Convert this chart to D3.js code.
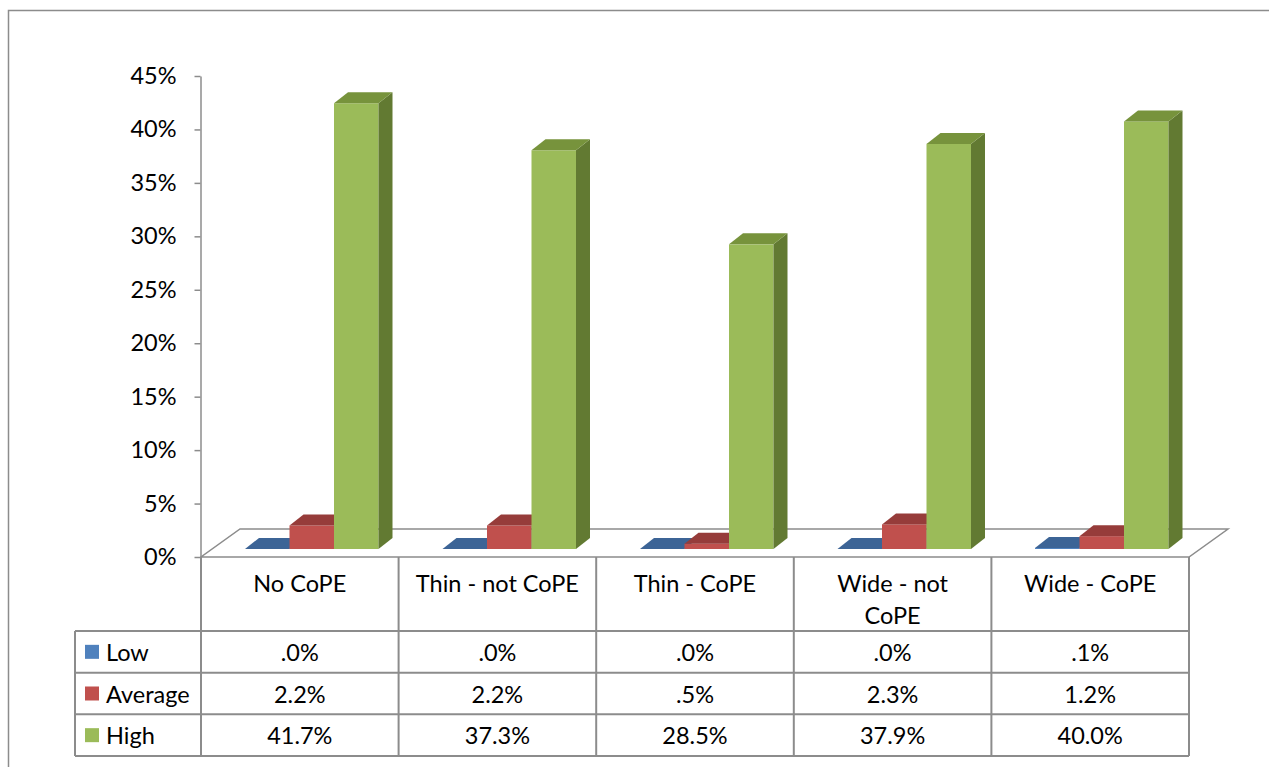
<!DOCTYPE html>
<html>
<head>
<meta charset="utf-8">
<script src="https://cdn.jsdelivr.net/npm/d3@7/dist/d3.min.js"></script>
<style>
  html, body { margin: 0; padding: 0; background: #fff; }
  svg { display: block; }
  text { font-family: Lato, "Liberation Sans", sans-serif; fill: #000; }
</style>
</head>
<body>
<svg id="chart" width="1269" height="767"></svg>
<script>
// Share of respondents per rating level, by design variant
const categories = ["No CoPE", "Thin - not CoPE", "Thin - CoPE", "Wide - not CoPE", "Wide - CoPE"];
const seriesNames = ["Low", "Average", "High"];
const low     = [0.000, 0.000, 0.000, 0.000, 0.001];
const average = [0.022, 0.022, 0.005, 0.023, 0.012];
const high    = [0.417, 0.373, 0.285, 0.379, 0.400];
const yTicks  = [0, 0.05, 0.10, 0.15, 0.20, 0.25, 0.30, 0.35, 0.40, 0.45];

const seriesValues = [low, average, high];
const palette = [
  { front: "#4F81BD", top: "#3C6496", side: "#34557F" },
  { front: "#C0504D", top: "#963C3A", side: "#7F3331" },
  { front: "#9BBB59", top: "#77933C", side: "#627A32" }
];

const svg = d3.select("#chart");
const grid = "#8c8c8c";
const fontSize = 23.5;

// outer chart frame
svg.append("path")
  .attr("d", "M8.5,767 L8.5,10.5 L1269,10.5")
  .attr("fill", "none").attr("stroke", grid).attr("stroke-width", 1.5);

// value scale on the front plane
const y = d3.scaleLinear().domain([0, 0.45]).range([557, 76]);

// 3-D geometry: floor depth and bar depth
const floorDX = 39, floorDY = 28;
const barDX = 14, barDY = 11;
const lift = 8;            // bars stand part-way into the floor

// table columns (front plane) and bar groups (set back into the floor)
const col = d3.scaleBand().domain(categories).range([201, 1189]);
const xCat = d3.scaleBand().domain(categories).range([213, 1200.5]);
const xSer = d3.scaleBand().domain(seriesNames)
  .range([32, xCat.bandwidth() - 32]);

// floor
const fx0 = 201, fx1 = 1189, fy = y(0);
svg.append("polygon")
  .attr("points", [[fx0, fy], [fx1, fy], [fx1 + floorDX, fy - floorDY], [fx0 + floorDX, fy - floorDY]].join(" "))
  .attr("fill", "#fff").attr("stroke", grid).attr("stroke-width", 1.5);

// y axis
const yAxis = d3.axisLeft(y).tickValues(yTicks)
  .tickFormat(d3.format(".0%")).tickSize(6).tickSizeOuter(0).tickPadding(18);
const gy = svg.append("g").attr("transform", "translate(200.5,0)").call(yAxis);
gy.select(".domain").attr("stroke", grid).attr("stroke-width", 1.5);
gy.selectAll(".tick line").attr("stroke", grid).attr("stroke-width", 1.5);
gy.selectAll(".tick text")
  .attr("font-size", fontSize).attr("font-family", "Lato, 'Liberation Sans', sans-serif")
  .attr("fill", "#000");

// bars
const bars = svg.append("g");
categories.forEach((cat, i) => {
  seriesNames.forEach((s, j) => {
    const v = seriesValues[j][i];
    const x0 = xCat(cat) + xSer(s);
    const w = xSer.bandwidth();
    const yTop = y(v) - lift;
    const yBot = y(0) - lift;
    const c = palette[j];
    const g = bars.append("g");
    g.append("rect").attr("x", x0).attr("y", yTop)
      .attr("width", w).attr("height", Math.max(0, yBot - yTop)).attr("fill", c.front);
    g.append("polygon")
      .attr("points", [[x0 + w, yTop], [x0 + w + barDX, yTop - barDY], [x0 + w + barDX, yBot - barDY], [x0 + w, yBot]].join(" "))
      .attr("fill", c.side);
    g.append("polygon")
      .attr("points", [[x0, yTop], [x0 + barDX, yTop - barDY], [x0 + w + barDX, yTop - barDY], [x0 + w, yTop]].join(" "))
      .attr("fill", c.top);
  });
});

// data table
const headTop = y(0), headBot = 631;
const rowH = (756 - 631) / 3;
const legendLeft = 75;
const table = svg.append("g").attr("stroke", grid).attr("stroke-width", 2).attr("fill", "none");

// column separators through header and data rows
categories.concat([null]).forEach((c, k) => {
  const x = c === null ? 1189 : col(c);
  table.append("line").attr("x1", x).attr("x2", x).attr("y1", headTop).attr("y2", 756);
});
table.append("line").attr("x1", legendLeft).attr("x2", legendLeft).attr("y1", headBot).attr("y2", 756);
d3.range(4).forEach(r => {
  const yy = headBot + r * rowH;
  table.append("line").attr("x1", legendLeft).attr("x2", 1189).attr("y1", yy).attr("y2", yy);
});

// category headers, wrapped when too wide for the column
const maxLabel = col.bandwidth() - 30;
categories.forEach(cat => {
  const t = svg.append("text")
    .attr("x", col(cat) + col.bandwidth() / 2).attr("y", 583)
    .attr("text-anchor", "middle").attr("dominant-baseline", "central")
    .attr("font-size", fontSize).text(cat);
  if (t.node().getComputedTextLength() > maxLabel) {
    const words = cat.split(" ");
    const line2 = [words.pop()];
    t.text(null);
    t.append("tspan").attr("x", col(cat) + col.bandwidth() / 2).attr("dy", 0).text(words.join(" "));
    t.append("tspan").attr("x", col(cat) + col.bandwidth() / 2).attr("dy", 32).text(line2.join(" "));
  }
});

// table rows: legend key, series name, values
const fmt = v => d3.format(".1%")(v).replace(/^0\./, ".");
seriesNames.forEach((s, j) => {
  const cy = headBot + j * rowH + rowH / 2;
  svg.append("rect").attr("x", 85).attr("y", cy - 7).attr("width", 14).attr("height", 14)
    .attr("fill", palette[j].front);
  svg.append("text").attr("x", 106).attr("y", cy)
    .attr("dominant-baseline", "central").attr("font-size", fontSize).text(s);
  categories.forEach((cat, i) => {
    svg.append("text")
      .attr("x", col(cat) + col.bandwidth() / 2).attr("y", cy)
      .attr("text-anchor", "middle").attr("dominant-baseline", "central")
      .attr("font-size", fontSize).text(fmt(seriesValues[j][i]));
  });
});
</script>
</body>
</html>
